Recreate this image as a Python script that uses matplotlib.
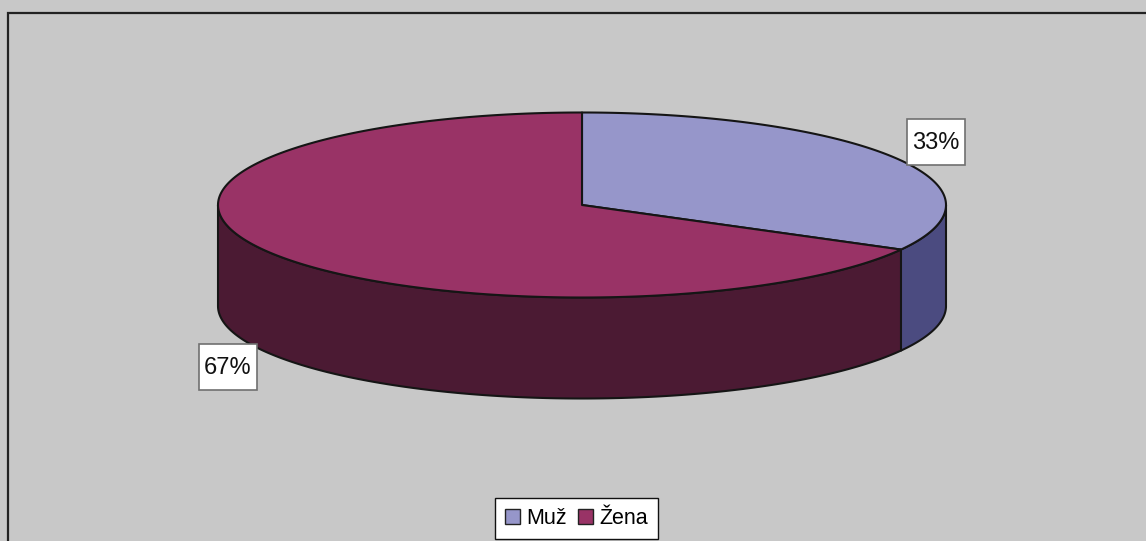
import numpy as np
import matplotlib
matplotlib.use("Agg")
import matplotlib.pyplot as plt
from matplotlib.patches import Polygon, Rectangle, Patch

# ---- data ----
labels = ["Muž", "Žena"]
values = [33, 67]
top_colors = ["#9696CA", "#993366"]
side_colors = ["#4B4B80", "#4B1A33"]

W, H = 1146, 541
fig = plt.figure(figsize=(W / 100, H / 100), dpi=100)
bg = "#C8C8C8"
fig.patch.set_facecolor(bg)
ax = fig.add_axes([0, 0, 1, 1])
ax.set_xlim(0, W)
ax.set_ylim(H, 0)
ax.axis("off")

# outer chart border
ax.add_patch(Rectangle((8, 12.5), W + 20, H + 20, facecolor=bg,
                       edgecolor="#222222", lw=1.6, zorder=0))

cx, cy, rx, ry, depth = 582, 205, 364, 92.5, 101
edge = dict(edgecolor="#151515", lw=1.5, joinstyle="round")

def pt(t_deg, dy=0.0):
    t = np.radians(t_deg)
    return cx + rx * np.cos(t), cy - ry * np.sin(t) + dy

total = float(sum(values))
fracs = [v / total for v in values]
# slices go clockwise starting at 12 o'clock
starts, ends = [], []
a = 90.0
for f in fracs:
    starts.append(a)
    a -= 360.0 * f
    ends.append(a)

# ---- side walls (front half only) ----
for s, e, col in zip(starts, ends, side_colors):
    lo, hi = e, s
    for shift in (0, -360, 360):
        l, h = lo + shift, hi + shift
        vl, vh = max(l, -180.0), min(h, 0.0)
        if vh > vl:
            ts = np.linspace(vl, vh, 200)
            top = [pt(t) for t in ts]
            bot = [pt(t, depth) for t in ts[::-1]]
            ax.add_patch(Polygon(top + bot, closed=True, facecolor=col,
                                 zorder=2, **edge))

# ---- top faces ----
for s, e, col in zip(starts, ends, top_colors):
    ts = np.linspace(s, e, 400)
    pts = [(cx, cy)] + [pt(t) for t in ts]
    ax.add_patch(Polygon(pts, closed=True, facecolor=col, zorder=3, **edge))

# ---- percentage labels ----
label_pos = [(936, 142), (227.5, 367)]
bw, bh = 58, 46
for v, (lx, ly) in zip(values, label_pos):
    pct = f"{round(100 * v / total):d}%"
    ax.add_patch(Rectangle((lx - bw / 2, ly - bh / 2), bw, bh,
                           facecolor="white", edgecolor="#707070",
                           lw=1.2, zorder=4))
    ax.text(lx, ly + 1, pct, ha="center", va="center", fontsize=17,
            family="Liberation Sans", color="#111111", zorder=5)

# ---- legend ----
handles = [Patch(facecolor=c, edgecolor="#222222", lw=1.0) for c in top_colors]
leg = fig.legend(handles, labels, loc="center",
                 bbox_to_anchor=((495 + 658) / 2 / W, 1 - 518.5 / H),
                 ncol=2, frameon=True, fancybox=False, shadow=False,
                 prop=dict(family="Liberation Sans", size=15.5),
                 handlelength=0.7, handleheight=0.7, handletextpad=0.3,
                 columnspacing=0.5, borderpad=0.45, borderaxespad=0)
leg.get_frame().set_edgecolor("#111111")
leg.get_frame().set_linewidth(1.0)
leg.get_frame().set_facecolor("white")
leg.get_frame().set_alpha(1)

fig.savefig("out.png", dpi=100, facecolor=bg)
